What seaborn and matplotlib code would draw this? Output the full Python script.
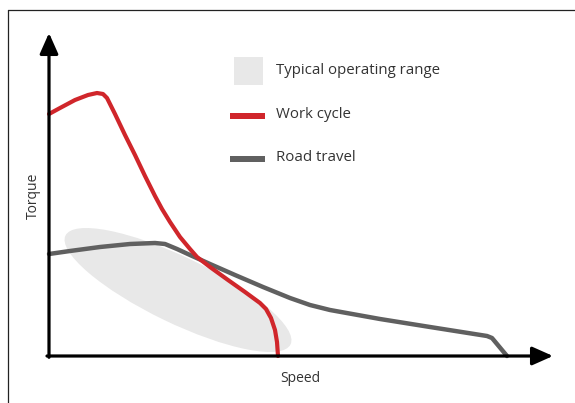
import matplotlib
matplotlib.use("Agg")
import matplotlib.pyplot as plt
import seaborn as sns
import pandas as pd
from matplotlib.patches import Ellipse, Rectangle
from matplotlib.lines import Line2D

# ---- data (arbitrary units) ----
speed_work = [0, 11, 26, 39, 48, 54, 58, 66, 76, 86, 96, 106, 113, 121, 131, 141, 148, 161, 179, 196, 211, 217, 222, 226, 228, 229]
torque_work = [242, 248, 256, 261, 263, 262, 258, 242, 221, 201, 180, 160, 147, 134, 119, 107, 99, 89, 76, 64, 53, 47, 38, 26, 14, 0]

speed_road = [0, 21, 51, 81, 106, 116, 128, 141, 161, 186, 214, 241, 261, 281, 331, 381, 438, 443, 458]
torque_road = [102, 105, 109, 112, 113, 112, 107, 101, 92, 81, 69, 58, 51, 46, 37, 29, 20, 18, 0]

range_center = (129, 66)
range_width = 250
range_height = 66
range_angle = -25.8

series_labels = ["Typical operating range", "Work cycle", "Road travel"]
x_label = "Speed"
y_label = "Torque"

x_max = 504
y_max = 323

# ---- styling ----
sns.set_theme(style="white")
plt.rcParams['font.family'] = ['Open Sans', 'DejaVu Sans']

RED = "#d0262b"
GRAY = "#606060"
FILL = "#e8e8e8"
TEXT = "#333333"

W, H = 575, 403
fig = plt.figure(figsize=(W / 100, H / 100), dpi=100)


def fx(px):
    return px / W


def fy(py):
    return 1 - py / H


ax = fig.add_axes([fx(49), fy(356), (553 - 49) / W, (356 - 33) / H])
ax.set_xlim(0, x_max)
ax.set_ylim(0, y_max)
ax.set_axis_off()

# operating range ellipse
ax.add_patch(Ellipse(range_center, range_width, range_height, angle=range_angle,
                     facecolor=FILL, edgecolor="none", zorder=1))

df_work = pd.DataFrame({"speed": speed_work, "torque": torque_work})
df_road = pd.DataFrame({"speed": speed_road, "torque": torque_road})

sns.lineplot(data=df_road, x="speed", y="torque", sort=False, estimator=None,
             color=GRAY, lw=3.2, ax=ax, zorder=3, clip_on=False)
sns.lineplot(data=df_work, x="speed", y="torque", sort=False, estimator=None,
             color=RED, lw=3.0, ax=ax, zorder=4, clip_on=False)

# axes with arrows
arrow_kw = dict(arrowstyle="-|>,head_length=0.45,head_width=0.2", lw=2.3, color="black",
                mutation_scale=28, shrinkA=0, shrinkB=0)
ax.annotate("", xy=(1, 0), xytext=(-0.004, 0), xycoords="axes fraction",
            arrowprops=arrow_kw, zorder=6, annotation_clip=False)
ax.annotate("", xy=(0, 1), xytext=(0, -0.004), xycoords="axes fraction",
            arrowprops=arrow_kw, zorder=6, annotation_clip=False)

# axis labels
fig.text(fx(300), fy(378), x_label, ha="center", va="center", fontsize=10, color=TEXT)
fig.text(fx(33), fy(196), y_label, ha="center", va="center", fontsize=10, color=TEXT, rotation=90)

# legend (manual)
fig.patches.append(Rectangle((fx(234), fy(85)), (263 - 234) / W, (85 - 57) / H,
                             transform=fig.transFigure, facecolor=FILL, edgecolor="none"))
fig.patches.append(Rectangle((fx(230), fy(119)), (265 - 230) / W, 6 / H,
                             transform=fig.transFigure, facecolor=RED, edgecolor="none"))
fig.patches.append(Rectangle((fx(230), fy(162)), (265 - 230) / W, 6 / H,
                             transform=fig.transFigure, facecolor=GRAY, edgecolor="none"))
for label, ypx in zip(series_labels, [70, 114, 158]):
    fig.text(fx(276), fy(ypx), label, ha="left", va="center", fontsize=10.8, color=TEXT)

# outer frame
fig.add_artist(Line2D([fx(8), fx(8)], [fy(9.5), 0], transform=fig.transFigure, color="#222222", lw=0.9))
fig.add_artist(Line2D([fx(8), 1], [fy(9.5), fy(9.5)], transform=fig.transFigure, color="#222222", lw=0.9))

fig.savefig("out.png", dpi=100)
